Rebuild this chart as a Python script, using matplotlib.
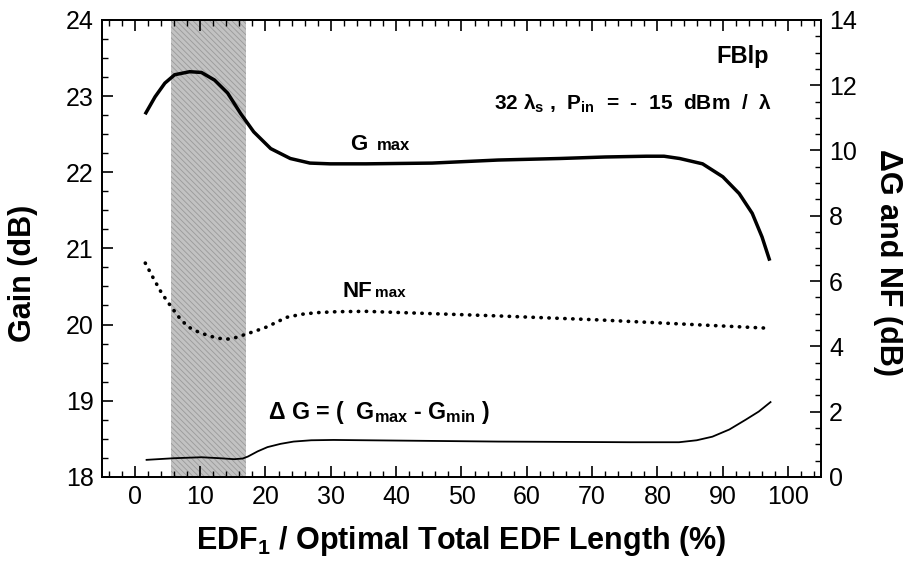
import matplotlib
matplotlib.use("Agg")
import matplotlib.pyplot as plt
from matplotlib.ticker import MultipleLocator

plt.rcParams['font.family'] = ['Liberation Sans', 'DejaVu Sans']
plt.rcParams['hatch.linewidth'] = 0.6

# G_max (left axis, dB)
g_x = [1.7, 3.1, 4.6, 6.1, 8.4, 10.2, 12.2, 14.2, 16.2, 18.2, 20.8, 23.8,
       26.8, 29.9, 35.4, 45.5, 55.6, 65, 72, 78.3, 81, 83.4, 86.9, 90.0,
       92.5, 94.5, 96.0, 97.1]
g_y = [22.78, 22.99, 23.17, 23.28, 23.32, 23.31, 23.21, 23.04, 22.77, 22.53,
       22.31, 22.18, 22.12, 22.11, 22.11, 22.12, 22.16, 22.18, 22.2, 22.21,
       22.21, 22.18, 22.11, 21.94, 21.72, 21.46, 21.15, 20.86]

# NF_max (right axis, dB)
nf_x = [1.6, 2.8, 4.1, 5.6, 6.8, 8.1, 9.9, 11.7, 13, 14.2, 15.5, 16.7, 18.5,
        20.3, 21.8, 23.3, 25.5, 27.8, 31, 35.4, 45.5, 55.6, 70.8, 86, 97.3]
nf_y = [6.55, 6.1, 5.63, 5.2, 4.88, 4.6, 4.42, 4.3, 4.24, 4.22, 4.27, 4.35,
        4.47, 4.6, 4.75, 4.89, 4.98, 5.03, 5.06, 5.07, 5.0, 4.93, 4.81, 4.66,
        4.55]

# Delta G (right axis, dB)
dg_x = [1.8, 6, 10.2, 13, 15.2, 16.5, 17.3, 18.8, 20.3, 22.3, 24.3, 27, 30.4,
        40.5, 55.6, 75.8, 83.3, 86, 88.4, 91, 93.5, 95.5, 97.3]
dg_y = [0.52, 0.57, 0.6, 0.57, 0.54, 0.56, 0.62, 0.78, 0.91, 1.01, 1.08, 1.12,
        1.13, 1.11, 1.08, 1.06, 1.06, 1.12, 1.23, 1.45, 1.75, 2.0, 2.29]

shade = (5.5, 17)

fig = plt.figure(figsize=(9.04, 5.69), dpi=100)
ax = fig.add_axes([0.113, 0.162, 0.795, 0.803])
ax2 = ax.twinx()

ax.axvspan(shade[0], shade[1], facecolor='#c2c2c2', edgecolor='#9a9a9a',
           hatch='\\\\\\\\\\\\', linewidth=0, zorder=0)

ax.plot(g_x, g_y, color='black', lw=2.5)
ax2.plot(nf_x, nf_y, color='black', lw=2.6, linestyle=(0, (0.1, 2.1)),
         dash_capstyle='round')
ax2.plot(dg_x, dg_y, color='black', lw=1.3)

ax.set_xlim(-5, 105)
ax.set_ylim(18, 24)
ax2.set_ylim(0, 14)

ax.xaxis.set_major_locator(MultipleLocator(10))
ax.xaxis.set_minor_locator(MultipleLocator(2))
ax.yaxis.set_major_locator(MultipleLocator(1))
ax.yaxis.set_minor_locator(MultipleLocator(0.25))
ax2.yaxis.set_major_locator(MultipleLocator(2))
ax2.yaxis.set_minor_locator(MultipleLocator(0.5))

ax.tick_params(axis='x', which='both', direction='in', top=True, bottom=True)
ax.tick_params(axis='y', which='both', direction='in', left=True, right=False)
ax2.tick_params(axis='y', which='both', direction='in')
for a in (ax, ax2):
    a.tick_params(which='major', length=8, width=1.2, labelsize=18, pad=6)
    a.tick_params(which='minor', length=4, width=1.0)
    for s in a.spines.values():
        s.set_linewidth(1.3)

ax.set_xlabel('EDF$_\\mathregular{1}$ / Optimal Total EDF Length (%)',
              fontsize=22, fontweight='bold', va='center')
ax.xaxis.set_label_coords(0.5, -0.14)
ax.set_ylabel('Gain (dB)', fontsize=22, fontweight='bold', va='center')
ax.yaxis.set_label_coords(-0.11, 0.446)
ax2.set_ylabel('\u0394G and NF (dB)', fontsize=22, fontweight='bold',
               rotation=270, va='center')
ax2.yaxis.set_label_coords(1.093, 0.468)

bold = dict(fontweight='bold', color='black')
ax.text(97, 23.43, 'FBlp', ha='right', va='baseline', fontsize=17, **bold)
ax.text(97.5, 22.82,
        '32 \u03bb$_\\mathregular{s}$ ,  P$_\\mathregular{in}$  =  -  15  dBm  /  \u03bb',
        ha='right', va='baseline', fontsize=15, **bold)

ax.text(33.0, 22.29, 'G', ha='left', va='baseline', fontsize=16, **bold)
ax.text(37.0, 22.29, 'max', ha='left', va='baseline', fontsize=12, **bold)
ax.text(31.8, 20.36, 'NF', ha='left', va='baseline', fontsize=16, **bold)
ax.text(36.8, 20.36, 'max', ha='left', va='baseline', fontsize=11, **bold)
ax.text(20.45, 18.76,
        '\u0394 G = (  G$_\\mathregular{max}$ - G$_\\mathregular{min}$ )',
        ha='left', va='baseline', fontsize=16.7, **bold)

fig.savefig('out.png', dpi=100)
